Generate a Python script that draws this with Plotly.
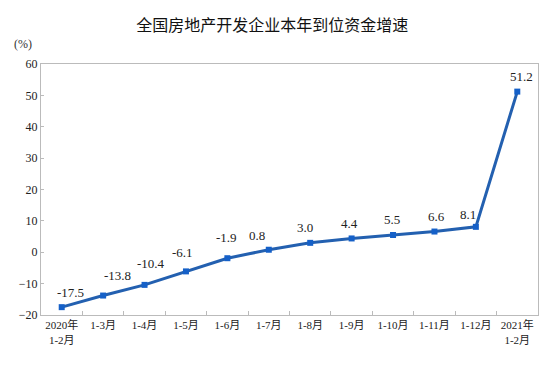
import plotly.graph_objects as go

categories = ["2020年<br>1-2月", "1-3月", "1-4月", "1-5月", "1-6月", "1-7月",
              "1-8月", "1-9月", "1-10月", "1-11月", "1-12月", "2021年<br>1-2月"]
values = [-17.5, -13.8, -10.4, -6.1, -1.9, 0.8, 3.0, 4.4, 5.5, 6.6, 8.1, 51.2]
label_text = ["-17.5", "-13.8", "-10.4", "-6.1", "-1.9", "0.8", "3.0", "4.4", "5.5", "6.6", "8.1", "51.2"]
label_dx = [9, 14, 6, -3, -1, -12, -5, -2, -1, 2, -8, 4]
label_dy = [15, 20, 21, 19, 21, 14, 15, 15, 15, 15, 12, 15]
y_ticks = [-20, -10, 0, 10, 20, 30, 40, 50, 60]

serif = "Liberation Serif, Noto Sans CJK SC"

fig = go.Figure()
fig.add_trace(go.Scatter(
    x=categories, y=values, mode="lines+markers",
    line=dict(color="#2360B0", width=3),
    marker=dict(symbol="square", size=6, color="#1560C8"),
    hoverinfo="skip", showlegend=False,
))

for c, v, t, dx, dy in zip(categories, values, label_text, label_dx, label_dy):
    fig.add_annotation(x=c, y=v, text=t, showarrow=False, xshift=dx, yshift=dy,
                       font=dict(family=serif, size=13, color="#222"))

fig.add_annotation(text="(%)", xref="paper", yref="paper", x=-0.058, y=1.08,
                   xanchor="left", yanchor="middle", showarrow=False,
                   font=dict(family=serif, size=12, color="#333"))

fig.update_layout(
    width=548, height=362,
    margin=dict(l=33, r=18, t=56, b=55),
    paper_bgcolor="white", plot_bgcolor="white",
    title=dict(text="全国房地产开发企业本年到位资金增速", x=0.482, xanchor="center",
               y=0.953, yanchor="middle",
               font=dict(family="Noto Sans CJK SC", size=16, color="#111")),
    xaxis=dict(type="category", showgrid=False, showline=True, linecolor="#BBBBBB",
               linewidth=1, mirror=True, ticks="inside", ticklen=4, tickcolor="#BBBBBB",
               tickson="boundaries", tickangle=0, automargin=False,
               tickfont=dict(family=serif, size=11, color="#222"),
               range=[-0.5, 11.5], zeroline=False),
    yaxis=dict(range=[-20, 60], tickvals=y_ticks, showgrid=False, showline=True,
               linecolor="#BBBBBB", linewidth=1, mirror=True, ticks="inside", ticklen=3,
               tickcolor="#BBBBBB", automargin=False,
               tickfont=dict(family=serif, size=12, color="#222"),
               zeroline=False),
)

fig.write_html("out.html")
